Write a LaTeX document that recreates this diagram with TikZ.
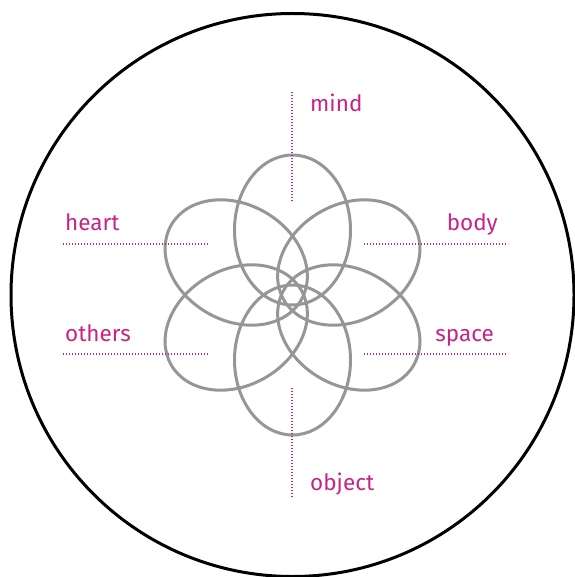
\documentclass[tikz,border=0pt]{standalone}
\usepackage{fontspec}
\setmainfont{Fira Sans}
\usetikzlibrary{calc}
\definecolor{pinkc}{RGB}{200,35,135}
\definecolor{petalc}{RGB}{150,150,150}
\begin{document}
\begin{tikzpicture}[x=1pt,y=-1pt,
  petal/.style={draw=petalc,line width=3pt},
  guide/.style={draw=pinkc,line width=1.6pt,dash pattern=on 1.4pt off 1.6pt},
  lab/.style={text=pinkc,inner sep=0pt,font=\fontsize{22.5}{26}\selectfont}]
\useasboundingbox (0,0) rectangle (574,577);
\fill[white] (0,0) rectangle (574,577);
\coordinate (C) at (292.5,295);
\draw[line width=3pt] (C) circle [radius=281.5];
\foreach \a in {0,60,...,300}
  \draw[petal, rotate around={\a:(C)}] ($(C)+(0,-65)$) ellipse [x radius=58, y radius=75];
% guides
\coordinate (mT) at (292,92);  \coordinate (mB) at (292,202);
\coordinate (oT) at (292,388); \coordinate (oB) at (292,497);
\coordinate (hL) at (63,244);  \coordinate (hR) at (208,244);
\coordinate (tL) at (63,354);  \coordinate (tR) at (208,354);
\coordinate (bL) at (364,244); \coordinate (bR) at (508,244);
\coordinate (sL) at (364,354); \coordinate (sR) at (508,354);
\draw[guide] (mT) -- (mB);
\draw[guide] (oT) -- (oB);
\draw[guide] (hL) -- (hR);
\draw[guide] (tL) -- (tR);
\draw[guide] (bL) -- (bR);
\draw[guide] (sL) -- (sR);
% labels
\node[lab,anchor=base west] (mind) at (310,112) {mind};
\node[lab,anchor=base west] (heart) at (65,230) {heart};
\node[lab,anchor=base east] (body) at (498,230) {body};
\node[lab,anchor=base west] (others) at (65,341) {others};
\node[lab,anchor=base east] (space) at (494,341) {space};
\node[lab,anchor=base west] (object) at (310,490) {object};
\end{tikzpicture}
\end{document}
